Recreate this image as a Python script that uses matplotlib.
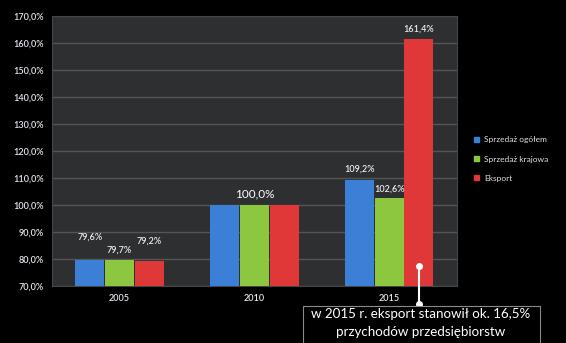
import matplotlib.pyplot as plt
import numpy as np
from matplotlib.patches import Patch, Rectangle

plt.rcParams['font.family'] = ['Lato', 'DejaVu Sans']

# data
years = ['2005', '2010', '2015']
series_names = ['Sprzedaż ogółem', 'Sprzedaż krajowa', 'Eksport']
sprzedaz_ogolem = [79.6, 100.0, 109.2]
sprzedaz_krajowa = [79.7, 100.0, 102.6]
eksport = [79.2, 100.0, 161.4]
y_ticks = [70, 80, 90, 100, 110, 120, 130, 140, 150, 160, 170]
note = 'w 2015 r. eksport stanowił ok. 16,5%\nprzychodów przedsiębiorstw'

colors = ['#3b7fd6', '#8dc63f', '#e03838']
# vertical offsets of the value labels above the bar tops (in % points)
label_dy = [[8.5, 3.6, 7.5], [None, None, None], [4.1, 3.3, 3.8]]

fig = plt.figure(figsize=(5.66, 3.43), dpi=100)
fig.patch.set_facecolor('black')
ax = fig.add_axes([0.092, 0.166, 0.715, 0.787])
ax.set_facecolor('#2e2f30')

x = np.arange(len(years))
w = 0.215
all_series = [sprzedaz_ogolem, sprzedaz_krajowa, eksport]
for i, vals in enumerate(all_series):
    ax.bar(x + (i - 1) * (w + 0.005), np.array(vals) - 70, bottom=70, width=w,
           color=colors[i], zorder=3, label=series_names[i])

def fmt(v):
    return f'{v:.1f}%'.replace('.', ',')

# value labels
for g in range(len(years)):
    if g == 1:
        ax.text(x[g], 104, fmt(100.0), ha='center', va='center',
                color='white', fontsize=8.5, zorder=4)
        continue
    for i, vals in enumerate(all_series):
        ax.text(x[g] + (i - 1) * (w + 0.005), vals[g] + label_dy[g][i], fmt(vals[g]),
                ha='center', va='center', color='#ececec', fontsize=6.5,
                fontweight='semibold', zorder=4)

ax.set_xlim(-0.5, 2.5)
ax.set_ylim(70, 170)
ax.set_yticks(y_ticks)
ax.set_yticklabels([f'{t:.1f}%'.replace('.', ',') for t in y_ticks])
ax.set_xticks(x)
ax.set_xticklabels(years)
ax.tick_params(colors='#e4e6ee', labelsize=6.5, length=0, pad=6)
for lbl in ax.get_xticklabels() + ax.get_yticklabels():
    lbl.set_fontweight('semibold')
ax.grid(axis='y', color='#545556', linewidth=1, zorder=1)
for s in ax.spines.values():
    s.set_color('#444546')

handles = [Patch(color=c) for c in colors]
leg = fig.legend(handles, series_names, loc='center left',
                 bbox_to_anchor=(0.825, 1 - 159 / 343), frameon=False,
                 fontsize=6, handlelength=0.55, handleheight=0.55,
                 handletextpad=0.6, labelspacing=1.45)
for t in leg.get_texts():
    t.set_color('#e0e0e0')

# annotation line + note box
xr = x[2] + (w + 0.005)
ax.plot([xr, xr], [77.3, 63.5], color='white', linewidth=1.5,
        marker='o', markersize=4, clip_on=False, zorder=5)
fig.patches.append(Rectangle((303 / 566, -0.05), 237 / 566, 0.05 + 1 - 306 / 343,
                             transform=fig.transFigure, facecolor='black',
                             edgecolor='#8a8a8a', linewidth=0.8))
fig.text(421 / 566, 1 - 306 / 343 - 0.006, note, ha='center', va='top',
         color='white', fontsize=9.6, linespacing=1.55)

plt.savefig('out.png', dpi=100, facecolor='black')
